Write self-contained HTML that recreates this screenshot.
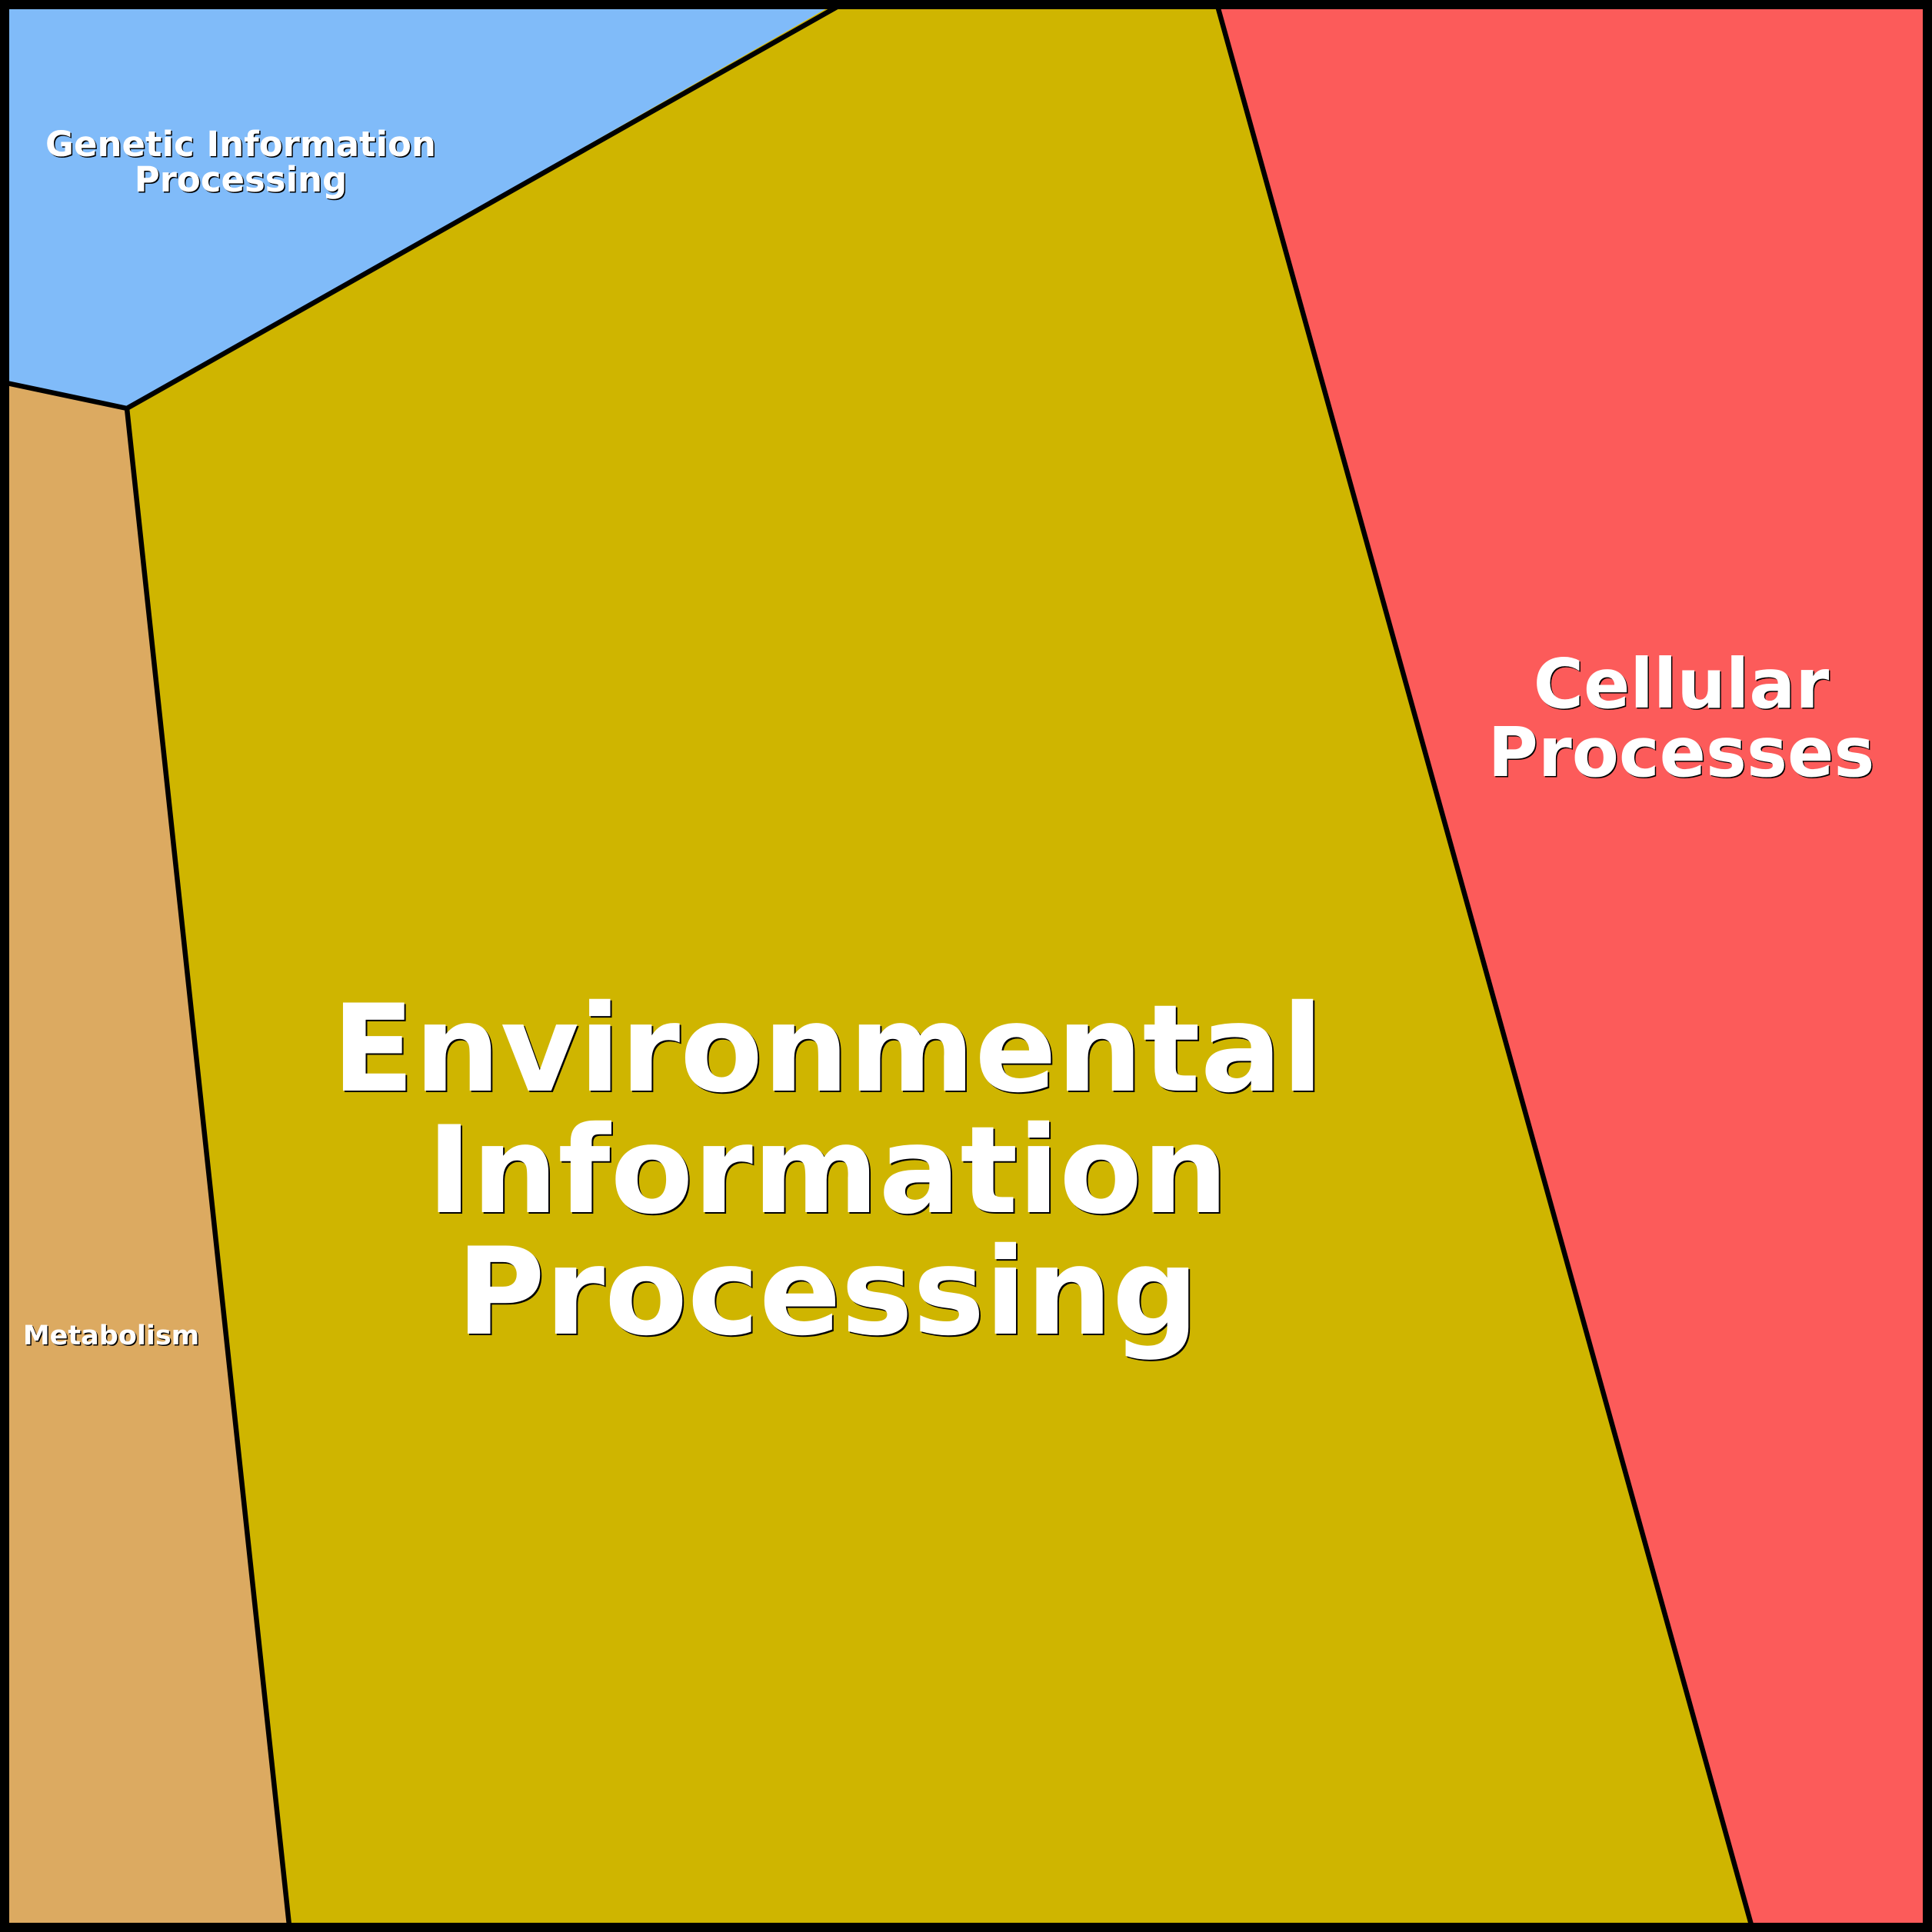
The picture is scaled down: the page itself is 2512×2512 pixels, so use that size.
<!DOCTYPE html>
<html>
<head>
<meta charset="utf-8">
<style>
  html, body { margin: 0; padding: 0; background: #ffffff; }
  body { width: 2512px; height: 2512px; overflow: hidden; }
  svg { display: block; }
  text { font-family: "DejaVu Sans", "Liberation Sans", sans-serif; font-weight: bold; text-anchor: middle; }
  .sh { fill: #000000; }
  .fg { fill: #ffffff; }
</style>
</head>
<body>
<svg xmlns="http://www.w3.org/2000/svg" width="2512" height="2512" viewBox="0 0 2512 2512">
  <!-- regions -->
  <polygon points="0,0 1094,0 165,531 0,497" fill="#80BBF9"/>
  <polygon points="1094,0 1583,0 2278,2512 376,2512 165,531" fill="#CFB500"/>
  <polygon points="1583,0 2512,0 2512,2512 2278,2512" fill="#FC5B5A"/>
  <polygon points="0,497 165,531 376,2512 0,2512" fill="#DCAA61"/>

  <!-- dividing lines -->
  <g stroke="#000000" stroke-width="6.5" fill="none" stroke-linejoin="miter" stroke-linecap="butt">
    <polyline points="4,497 165,531 1097,4"/>
    <line x1="165" y1="531" x2="376.5" y2="2508"/>
    <line x1="1582" y1="4" x2="2278.5" y2="2508"/>
  </g>

  <!-- outer border -->
  <rect x="6" y="6" width="2500" height="2500" fill="none" stroke="#000000" stroke-width="12"/>

  <!-- Genetic Information Processing -->
  <g font-size="45">
    <text class="sh" x="314.5" y="204.5">Genetic Information</text>
    <text class="sh" x="314.5" y="250.5">Processing</text>
    <text class="fg" x="313" y="203">Genetic Information</text>
    <text class="fg" x="313" y="249">Processing</text>
  </g>

  <!-- Metabolism -->
  <g font-size="35">
    <text class="sh" x="146" y="1749.5">Metabolism</text>
    <text class="fg" x="144.5" y="1748">Metabolism</text>
  </g>

  <!-- Cellular Processes -->
  <g font-size="89">
    <text class="sh" x="2187.5" y="921.5">Cellular</text>
    <text class="sh" x="2187.5" y="1010.5">Processes</text>
    <text class="fg" x="2186" y="920">Cellular</text>
    <text class="fg" x="2186" y="1009">Processes</text>
  </g>

  <!-- Environmental Information Processing -->
  <g font-size="157">
    <text class="sh" x="1078" y="1420">Environmental</text>
    <text class="sh" x="1078" y="1578">Information</text>
    <text class="sh" x="1078" y="1736">Processing</text>
    <text class="fg" x="1076" y="1418">Environmental</text>
    <text class="fg" x="1076" y="1576">Information</text>
    <text class="fg" x="1076" y="1734">Processing</text>
  </g>
</svg>
</body>
</html>
